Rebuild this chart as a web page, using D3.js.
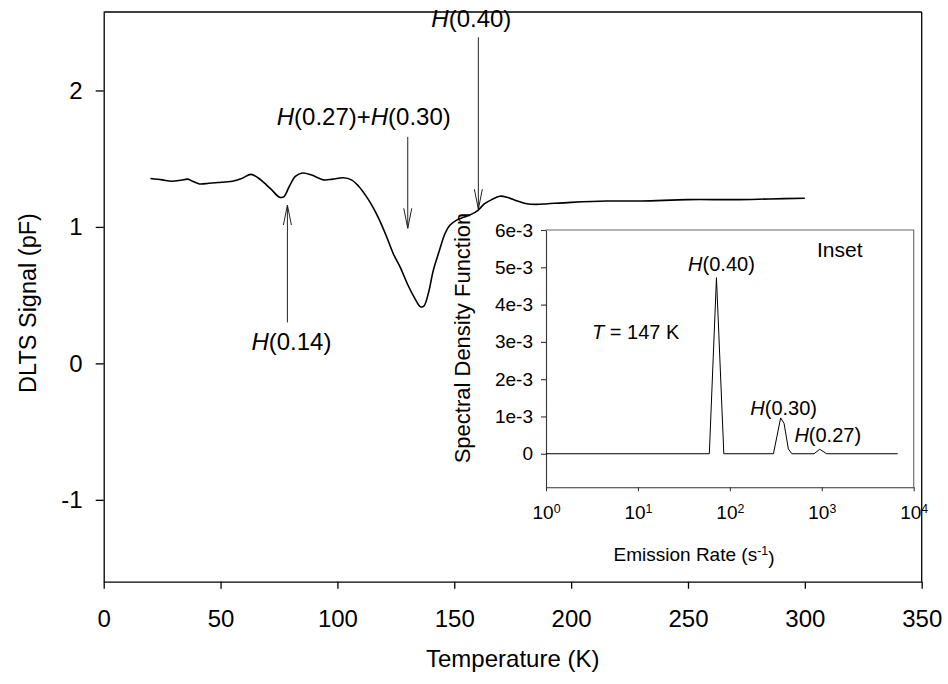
<html>
<head>
<meta charset="utf-8">
<script src="https://d3js.org/d3.v7.min.js"></script>
<style>
  body { margin: 0; background: white; }
  text { font-family: "Liberation Sans", Arial, sans-serif; fill: black; }
</style>
</head>
<body>
<svg width=948 height=684></svg>
<script>
// main DLTS spectrum
var temps  = [20, 25, 29, 33, 36, 38, 41, 45, 49, 55, 59, 63, 66, 69.5, 72, 75, 77, 79.5, 82, 85,
              89, 94, 98, 102.5, 106, 109, 112.5, 115, 118, 121, 124, 127, 130, 133, 135.5, 137,
              139, 141, 143.5, 146, 148, 151, 154, 157, 160, 163, 166, 169.5, 173, 177, 181, 185,
              190, 200, 215, 230, 250, 270, 285, 300];
var signal = [1.355, 1.345, 1.335, 1.342, 1.35, 1.335, 1.315, 1.32, 1.325, 1.335, 1.355, 1.385, 1.36, 1.31, 1.27, 1.22, 1.22, 1.3, 1.37, 1.395,
              1.38, 1.345, 1.35, 1.36, 1.345, 1.3, 1.22, 1.15, 1.05, 0.93, 0.8, 0.7, 0.58, 0.48, 0.415, 0.42,
              0.52, 0.68, 0.82, 0.95, 1.01, 1.05, 1.07, 1.09, 1.12, 1.17, 1.2, 1.225, 1.215, 1.19, 1.17, 1.165,
              1.17, 1.18, 1.19, 1.19, 1.2, 1.2, 1.205, 1.21];
var xTicks = [0, 50, 100, 150, 200, 250, 300, 350];
var yTicks = [-1, 0, 1, 2];

// arrows on the main plot
var arrowLabels = ["H(0.14)", "H(0.27)+H(0.30)", "H(0.40)"];
var arrowT      = [78.6, 130.1, 160.3];
var arrowFrom   = [0.30, 1.66, 2.39];
var arrowTo     = [1.16, 0.99, 1.13];

// inset: spectral density vs emission rate
var rates   = [1, 59.8, 71.5, 86, 298, 357, 389, 433, 472, 824, 950, 1130, 6700];
var density = [0, 0, 4.72e-3, 0, 0, 0.96e-3, 0.81e-3, 0.13e-3, 0, 0, 0.12e-3, 0, 0];
var insetYTicks  = [0, 1e-3, 2e-3, 3e-3, 4e-3, 5e-3, 6e-3];
var insetYLabels = ["0", "1e-3", "2e-3", "3e-3", "4e-3", "5e-3", "6e-3"];
var insetXTicks  = [1, 10, 100, 1000, 10000];
var insetXExp    = ["0", "1", "2", "3", "4"];
var peakLabels = ["H(0.40)", "H(0.30)", "H(0.27)"];
var peakRate   = [71.5, 357, 950];
var peakValue  = [4.72e-3, 0.96e-3, 0.12e-3];

var svg = d3.select("svg");

var x = d3.scaleLinear().domain([0, 350]).range([103.7, 921.7]);
var y = d3.scaleLinear().domain([-1.6, 2.575]).range([581.7, 12]);

// italic H inside labels
function richText(sel, str) {
  str.split(/(H)/).forEach(function (p) {
    if (p === "") return;
    var t = sel.append("tspan").text(p);
    if (p === "H") t.attr("font-style", "italic");
  });
}

// frame
svg.append("line").attr("x1", x(0)).attr("x2", x(350)).attr("y1", y(2.575)).attr("y2", y(2.575))
  .attr("stroke", "black").attr("stroke-width", 1.3);
svg.append("line").attr("x1", x(350)).attr("x2", x(350)).attr("y1", y(2.575)).attr("y2", y(-1.6))
  .attr("stroke", "black").attr("stroke-width", 1.3);

var xAxis = svg.append("g").attr("transform", "translate(0," + y(-1.6) + ")")
  .call(d3.axisBottom(x).tickValues(xTicks).tickSize(7).tickSizeOuter(0).tickPadding(21));
var yAxis = svg.append("g").attr("transform", "translate(" + x(0) + ",0)")
  .call(d3.axisLeft(y).tickValues(yTicks).tickSize(8).tickSizeOuter(0).tickPadding(13)
    .tickFormat(function (d) { return String(d); }));
[xAxis, yAxis].forEach(function (a) {
  a.selectAll("path, line").attr("stroke", "black").attr("stroke-width", 1.3);
  a.selectAll("text").attr("font-size", 24).attr("font-family", null);
});

svg.append("text").attr("x", 512.7).attr("y", 667).attr("text-anchor", "middle")
  .attr("font-size", 24).text("Temperature (K)");
svg.append("text").attr("transform", "translate(36,303) rotate(-90)").attr("text-anchor", "middle")
  .attr("font-size", 23.5).text("DLTS Signal (pF)");

// curve
var line = d3.line().x(function (d, i) { return x(temps[i]); }).y(function (d) { return y(d); })
  .curve(d3.curveCatmullRom.alpha(0.5));
svg.append("path").attr("d", line(signal)).attr("fill", "none").attr("stroke", "black").attr("stroke-width", 1.6);

// arrows
arrowT.forEach(function (t, i) {
  var ax = x(t), y0 = y(arrowFrom[i]), y1 = y(arrowTo[i]);
  var dir = y1 < y0 ? 1 : -1;
  svg.append("line").attr("x1", ax).attr("x2", ax).attr("y1", y0).attr("y2", y1)
    .attr("stroke", "#222").attr("stroke-width", 1);
  svg.append("path")
    .attr("d", "M" + (ax - 4) + "," + (y1 + dir * 20) + "L" + ax + "," + y1 + "L" + (ax + 4) + "," + (y1 + dir * 20))
    .attr("fill", "none").attr("stroke", "#222").attr("stroke-width", 1);
});
var lab0 = svg.append("text").attr("x", x(arrowT[0]) + 4).attr("y", y(arrowFrom[0]) + 28)
  .attr("text-anchor", "middle").attr("font-size", 24);
richText(lab0, arrowLabels[0]);
var lab1 = svg.append("text").attr("x", x(arrowT[1]) - 44).attr("y", y(arrowFrom[1]) - 12)
  .attr("text-anchor", "middle").attr("font-size", 24);
richText(lab1, arrowLabels[1]);
var lab2 = svg.append("text").attr("x", x(arrowT[2]) - 7).attr("y", y(arrowFrom[2]) - 10)
  .attr("text-anchor", "middle").attr("font-size", 24);
richText(lab2, arrowLabels[2]);

// ---- inset ----
var ix = d3.scaleLog().domain([1, 1e4]).range([546, 913.7]);
var iy = d3.scaleLinear().domain([-0.9e-3, 6e-3]).range([487.3, 230]);

svg.append("rect").attr("x", ix(1)).attr("y", iy(6e-3)).attr("width", ix(1e4) - ix(1))
  .attr("height", iy(-0.9e-3) - iy(6e-3)).attr("fill", "white");
svg.append("path")
  .attr("d", "M" + ix(1) + "," + iy(6e-3) + "H" + ix(1e4) + "V" + iy(-0.9e-3))
  .attr("fill", "none").attr("stroke", "#666").attr("stroke-width", 1.1);

var ixAxis = svg.append("g").attr("transform", "translate(0," + iy(-0.9e-3) + ")")
  .call(d3.axisBottom(ix).tickValues(insetXTicks).tickSize(4).tickSizeOuter(0).tickPadding(14).tickFormat(""));
var iyAxis = svg.append("g").attr("transform", "translate(" + ix(1) + ",0)")
  .call(d3.axisLeft(iy).tickValues(insetYTicks).tickSize(5).tickSizeOuter(0).tickPadding(8)
    .tickFormat(function (d, i) { return insetYLabels[i]; }));
[ixAxis, iyAxis].forEach(function (a) {
  a.selectAll("path, line").attr("stroke", "#333").attr("stroke-width", 1.1);
  a.selectAll("text").attr("font-size", 19).attr("font-family", null);
});
ixAxis.selectAll("text").each(function (d, i) {
  var t = d3.select(this);
  t.append("tspan").text("10");
  t.append("tspan").attr("dy", "-0.45em").attr("font-size", "0.65em").text(insetXExp[i]);
});

svg.append("path")
  .attr("d", d3.line().x(function (d, i) { return ix(rates[i]); }).y(function (d) { return iy(d); })(density))
  .attr("fill", "none").attr("stroke", "black").attr("stroke-width", 1);

var peakDx = [5, 3, 8], peakDy = [-7, -3, -7];
peakLabels.forEach(function (s, i) {
  var t = svg.append("text").attr("x", ix(peakRate[i]) + peakDx[i]).attr("y", iy(peakValue[i]) + peakDy[i])
    .attr("text-anchor", "middle").attr("font-size", 20);
  richText(t, s);
});

svg.append("text").attr("x", 817).attr("y", 257).attr("font-size", 21).text("Inset");
var tl = svg.append("text").attr("x", 592).attr("y", 339).attr("font-size", 20);
tl.append("tspan").attr("font-style", "italic").text("T");
tl.append("tspan").text(" = 147 K");

svg.append("text").attr("transform", "translate(470,338) rotate(-90)").attr("text-anchor", "middle")
  .attr("font-size", 22).text("Spectral Density Function");
var el = svg.append("text").attr("x", 694).attr("y", 561).attr("text-anchor", "middle").attr("font-size", 19);
el.append("tspan").text("Emission Rate (s");
el.append("tspan").attr("dy", "-0.45em").attr("font-size", "0.65em").text("-1");
el.append("tspan").attr("dy", "0.45em").text(")");
</script>
</body>
</html>
